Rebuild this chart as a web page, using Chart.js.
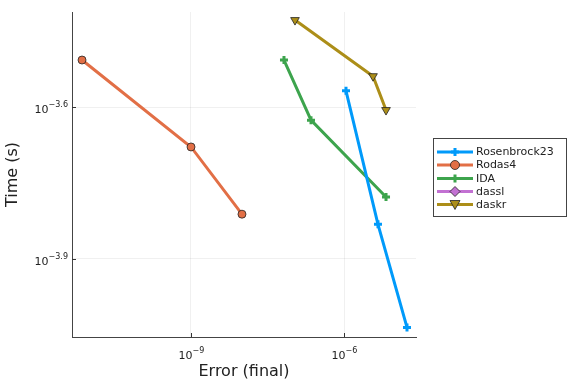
<!DOCTYPE html>
<html><head><meta charset="utf-8">
<script src="https://cdn.jsdelivr.net/npm/chart.js@4/dist/chart.umd.min.js"></script>
<style>html,body{margin:0;padding:0;background:#fff}#wrap{width:576px;height:384px}</style>
</head><body><div id="wrap"><canvas id="c" width="576" height="384"></canvas></div>
<script>
// log10 values
const seriesNames = ["Rosenbrock23","Rodas4","IDA","dassl","daskr"];
const rosenErrLog = [-5.961, -5.336, -4.769];
const rosenTimeLog = [-3.568, -3.832, -4.036];
const rodasErrLog = [-11.120, -8.99, -7.994];
const rodasTimeLog = [-3.507, -3.679, -3.812];
const idaErrLog = [-7.173, -6.645, -5.179];
const idaTimeLog = [-3.507, -3.626, -3.778];
const dasslErrLog = [];
const dasslTimeLog = [];
const daskrErrLog = [-6.958, -5.433, -5.179];
const daskrTimeLog = [-3.428, -3.539, -3.606];
const xTickExps = ["-9","-6"];
const yTickExps = ["-3.6","-3.9"];

const colors = ["#009AFA","#E26F46","#3DA44D","#C271D2","#AC8E18"];
const styles = ["cross","circle","cross","rectRot","triangle"];

function pts(xs, ys){ return xs.map((x,i)=>({x:Math.pow(10,x), y:Math.pow(10,ys[i])})); }
const allData = [pts(rosenErrLog,rosenTimeLog), pts(rodasErrLog,rodasTimeLog), pts(idaErrLog,idaTimeLog), pts(dasslErrLog,dasslTimeLog), pts(daskrErrLog,daskrTimeLog)];

const datasets = seriesNames.map((n,i)=>{
  const cross = styles[i]==="cross";
  return {
    label:n, data:allData[i], borderColor:colors[i], backgroundColor:colors[i],
    borderWidth:3, showLine:true, fill:false, tension:0,
    pointStyle:styles[i], pointRotation: styles[i]==="triangle"?180:0,
    pointRadius: cross?4:(styles[i]==="triangle"?5:4),
    pointBorderWidth: cross?3:0.8,
    pointBorderColor: cross?colors[i]:"#222",
    pointBackgroundColor: colors[i],
    pointHoverRadius:4
  };
});

function drawSup(ctx, base, exp, x, y, align){
  ctx.font = "11px 'DejaVu Sans'";
  const bw = ctx.measureText(base).width;
  ctx.font = "8px 'DejaVu Sans'";
  const ew = ctx.measureText(exp.replace("-","\u2212")).width;
  let x0 = align==="right" ? x - bw - ew : (align==="center" ? x - (bw+ew)/2 : x);
  ctx.fillStyle="#222"; ctx.textAlign="left"; ctx.textBaseline="alphabetic";
  ctx.font = "11px 'DejaVu Sans'";
  ctx.fillText(base, x0, y);
  ctx.font = "8px 'DejaVu Sans'";
  ctx.fillText(exp.replace("-","\u2212"), x0+bw, y-6);
}

function drawMarker(ctx, style, color, cx, cy){
  ctx.save();
  ctx.fillStyle=color; ctx.strokeStyle="#222"; ctx.lineWidth=0.8;
  if(style==="cross"){
    ctx.strokeStyle=color; ctx.lineWidth=3;
    ctx.beginPath(); ctx.moveTo(cx-4,cy); ctx.lineTo(cx+4,cy); ctx.moveTo(cx,cy-4); ctx.lineTo(cx,cy+4); ctx.stroke();
  } else if(style==="circle"){
    ctx.beginPath(); ctx.arc(cx,cy,4.5,0,Math.PI*2); ctx.fill(); ctx.stroke();
  } else if(style==="rectRot"){
    ctx.beginPath(); ctx.moveTo(cx,cy-5); ctx.lineTo(cx+5,cy); ctx.lineTo(cx,cy+5); ctx.lineTo(cx-5,cy); ctx.closePath(); ctx.fill(); ctx.stroke();
  } else if(style==="triangle"){
    ctx.beginPath(); ctx.moveTo(cx-5,cy-4); ctx.lineTo(cx+5,cy-4); ctx.lineTo(cx,cy+5); ctx.closePath(); ctx.fill(); ctx.stroke();
  }
  ctx.restore();
}

const decor = {
  id:"decor",
  afterDraw(chart){
    const ctx = chart.ctx, xs = chart.scales.x, ys = chart.scales.y, a = chart.chartArea;
    ctx.save();
    // tick marks
    ctx.strokeStyle="#333"; ctx.lineWidth=1;
    xTickExps.forEach(e=>{ const px=Math.round(xs.getPixelForValue(Math.pow(10,parseFloat(e))))+0.5;
      ctx.beginPath(); ctx.moveTo(px,a.bottom); ctx.lineTo(px,a.bottom-4); ctx.stroke();
      drawSup(ctx,"10",e,px,a.bottom+22,"center"); });
    yTickExps.forEach(e=>{ const py=Math.round(ys.getPixelForValue(Math.pow(10,parseFloat(e))))+0.5;
      ctx.beginPath(); ctx.moveTo(a.left,py); ctx.lineTo(a.left+4,py); ctx.stroke();
      drawSup(ctx,"10",e,a.left-4,py+5,"right"); });
    // axis titles
    ctx.fillStyle="#222"; ctx.font="16px 'DejaVu Sans'"; ctx.textAlign="center"; ctx.textBaseline="middle";
    ctx.fillText("Error (final)", (a.left+a.right)/2, 372);
    ctx.save(); ctx.translate(13,(a.top+a.bottom)/2); ctx.rotate(-Math.PI/2); ctx.fillText("Time (s)",0,0); ctx.restore();
    // legend
    const lx=433.5, ly=138.5, lw=133, lh=78;
    ctx.fillStyle="#fff"; ctx.fillRect(lx,ly,lw,lh);
    ctx.strokeStyle="#444"; ctx.lineWidth=1; ctx.strokeRect(lx,ly,lw,lh);
    const rows=[152,165,178.5,191.5,204.5];
    seriesNames.forEach((n,i)=>{
      const y=rows[i];
      ctx.strokeStyle=colors[i]; ctx.lineWidth=3;
      ctx.beginPath(); ctx.moveTo(437,y); ctx.lineTo(473,y); ctx.stroke();
      drawMarker(ctx,styles[i],colors[i],455,y);
      ctx.fillStyle="#222"; ctx.font="11px 'DejaVu Sans'"; ctx.textAlign="left"; ctx.textBaseline="middle";
      ctx.fillText(n,476,y+0.5);
    });
    ctx.restore();
  }
};

new Chart(document.getElementById("c"),{
  type:"scatter",
  data:{datasets},
  options:{
    responsive:false, animation:false, devicePixelRatio:1,
    layout:{padding:{left:0,top:12,right:160,bottom:0}},
    plugins:{legend:{display:false},tooltip:{enabled:false}},
    scales:{
      x:{type:"logarithmic", min:Math.pow(10,-11.316), max:Math.pow(10,-4.593),
        afterBuildTicks(s){ s.ticks = xTickExps.map(e=>({value:Math.pow(10,parseFloat(e))})); },
        afterFit(s){ s.height = 47; },
        ticks:{display:false},
        grid:{color:"rgba(0,0,0,0.06)", drawTicks:false, lineWidth:1},
        border:{display:true,color:"#444",width:1}
      },
      y:{type:"logarithmic", min:Math.pow(10,-4.055), max:Math.pow(10,-3.412),
        afterBuildTicks(s){ s.ticks = yTickExps.map(e=>({value:Math.pow(10,parseFloat(e))})); },
        afterFit(s){ s.width = 72; },
        ticks:{display:false},
        grid:{color:"rgba(0,0,0,0.06)", drawTicks:false, lineWidth:1},
        border:{display:true,color:"#444",width:1}
      }
    }
  },
  plugins:[decor]
});
</script></body></html>
